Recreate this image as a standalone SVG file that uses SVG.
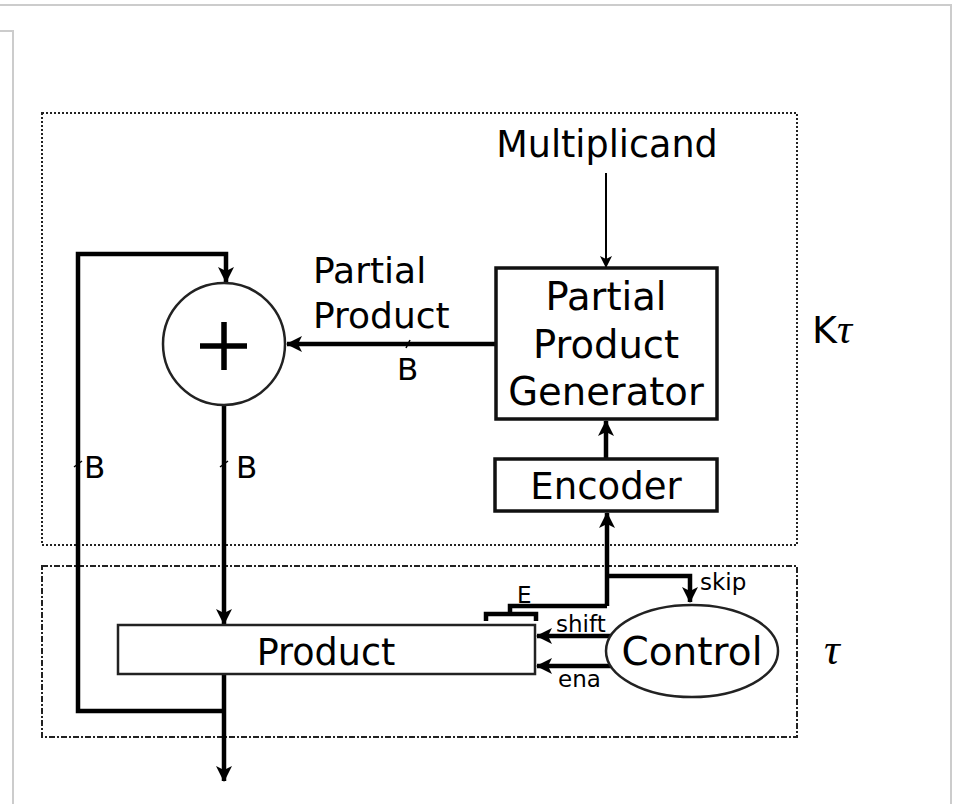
<svg xmlns="http://www.w3.org/2000/svg" width="953" height="804" viewBox="0 0 953 804">
<defs>
<style>
.t{font-family:"DejaVu Sans",sans-serif;fill:#000}
.box{fill:#fff;stroke:#111;stroke-width:3.5}
.w{fill:none;stroke:#000;stroke-width:4.5}
.thin{fill:none;stroke:#000;stroke-width:2}
.frame{fill:none;stroke:#ccc;stroke-width:2}
.s{font-size:23px}
</style>
<marker id="ah" markerWidth="12" markerHeight="12" refX="11" refY="6" orient="auto" markerUnits="userSpaceOnUse" viewBox="0 0 12 12">
<path d="M0,0 L12,6 L0,12 L3,6 Z" fill="#000"/>
</marker>
<marker id="ahL" markerWidth="16" markerHeight="16" refX="15" refY="8" orient="auto" markerUnits="userSpaceOnUse" viewBox="0 0 16 16">
<path d="M0,0 L16,8 L0,16 L4,8 Z" fill="#000"/>
</marker>
</defs>
<rect width="953" height="804" fill="#fff"/>
<g id="frame">
<path class="frame" d="M0,5 H951 V804"/>
<path class="frame" d="M0,31 H13 V804"/>
</g>
<g id="regions">
<rect x="42" y="113" width="755" height="432" fill="none" stroke="#222" stroke-width="2" stroke-dasharray="2,2"/>
<rect x="42" y="566" width="755" height="171" fill="none" stroke="#222" stroke-width="2" stroke-dasharray="6,2,2,2"/>
<text class="t" x="812" y="343" font-size="38">K<tspan font-family="'Liberation Serif',serif" font-style="italic" font-size="42">τ</tspan></text>
<text x="824" y="664" font-size="44" font-family="'Liberation Serif',serif" font-style="italic">τ</text>
</g>
<g id="connectors">
<line class="thin" x1="606" y1="173" x2="606" y2="267" marker-end="url(#ah)"/>
<line class="w" x1="606" y1="459" x2="606" y2="421" marker-end="url(#ahL)"/>
<line class="w" x1="607" y1="606" x2="607" y2="513" marker-end="url(#ahL)"/>
<path class="w" d="M607,576 H690 V602" marker-end="url(#ahL)"/>
<path class="w" d="M607,606 H510 V614"/>
<path class="w" d="M486,621 V614 H536 V621"/>
<line class="w" x1="496" y1="344" x2="287" y2="344" marker-end="url(#ahL)"/>
<line class="w" x1="224" y1="405" x2="224" y2="624" marker-end="url(#ahL)"/>
<path class="w" d="M224,674 V781" marker-end="url(#ahL)"/>
<path class="w" d="M224,711 H78 V254 H226 V282" marker-end="url(#ahL)"/>
<line class="w" x1="612" y1="636" x2="537" y2="636" marker-end="url(#ahL)"/>
<line class="w" x1="612" y1="666" x2="537" y2="666" marker-end="url(#ahL)"/>
<line x1="406" y1="348" x2="410" y2="340" stroke="#000" stroke-width="1.5"/>
<line x1="74" y1="467" x2="82" y2="461" stroke="#000" stroke-width="1.5"/>
<line x1="220" y1="467" x2="228" y2="461" stroke="#000" stroke-width="1.5"/>
<text class="t" x="313" y="283" font-size="36">Partial</text>
<text class="t" x="313" y="328" font-size="36">Product</text>
<text class="t" x="397" y="380" font-size="31">B</text>
<text class="t" x="84" y="478" font-size="31">B</text>
<text class="t" x="236" y="478" font-size="31">B</text>
<text class="t s" x="700" y="590">skip</text>
<text class="t s" x="517" y="603">E</text>
<text class="t s" x="556" y="632">shift</text>
<text class="t s" x="558" y="687">ena</text>
</g>
<g id="multiplicand">
<text class="t" x="607" y="157" font-size="36.5" text-anchor="middle">Multiplicand</text>
</g>
<g id="ppg">
<rect class="box" x="496" y="268" width="221" height="151"/>
<text class="t" x="606" y="310" font-size="38.5" text-anchor="middle">Partial</text>
<text class="t" x="606" y="358" font-size="38.5" text-anchor="middle">Product</text>
<text class="t" x="606" y="405" font-size="38.5" text-anchor="middle">Generator</text>
</g>
<g id="encoder">
<rect class="box" x="495" y="459" width="222" height="52"/>
<text class="t" x="606" y="499" font-size="37" text-anchor="middle">Encoder</text>
</g>
<g id="adder">
<circle cx="224" cy="344" r="61" fill="#fff" stroke="#222" stroke-width="2.5"/>
<path d="M200,346 H247 M224,322 V370" stroke="#000" stroke-width="5.5"/>
</g>
<g id="product">
<rect x="118" y="625" width="417" height="49" fill="#fff" stroke="#222" stroke-width="2.5"/>
<text class="t" x="326" y="665" font-size="36.5" text-anchor="middle">Product</text>
</g>
<g id="control">
<ellipse cx="692" cy="651" rx="86" ry="46" fill="#fff" stroke="#222" stroke-width="2.5"/>
<text class="t" x="692" y="665" font-size="39" text-anchor="middle">Control</text>
</g>
</svg>
